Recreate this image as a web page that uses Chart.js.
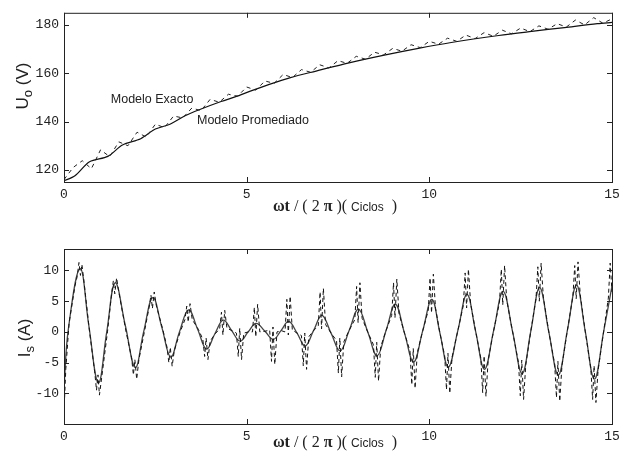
<!DOCTYPE html>
<html>
<head>
<meta charset="utf-8">
<script src="https://cdn.jsdelivr.net/npm/chart.js@4.4.1/dist/chart.umd.min.js"></script>
<style>
  body { margin: 0; background: #fff; }
  #pagina { position: relative; width: 626px; height: 452px; overflow: hidden; }
  canvas { position: absolute; left: 0; }
  .etq { position: absolute; color: #222; white-space: nowrap; }
  .ylab { font: 17px "Liberation Sans", Arial, sans-serif; transform: translate(-50%, -50%) rotate(-90deg); }
  .ylab sub { font-size: 13px; }
  .xlab { font: 16px "Liberation Serif", "Times New Roman", serif; transform: translateX(-50%); }
  .xlab b { font-weight: bold; }
  .xlab .c { font: 12px "Liberation Sans", Arial, sans-serif; }
</style>
</head>
<body>
<div id="pagina">
  <canvas id="graficaU" width="626" height="226" style="top:0"></canvas>
  <canvas id="graficaI" width="626" height="226" style="top:226px"></canvas>

  <div class="etq ylab" style="left:24px; top:86px">U<sub>o</sub> (V)</div>
  <div class="etq ylab" style="left:26px; top:338px">I<sub>s</sub> (A)</div>
  <div class="etq xlab" style="left:335px; top:197px"><b>ωt</b> / ( 2 <b>π</b> )( <span class="c">Ciclos</span> &nbsp;)</div>
  <div class="etq xlab" style="left:335px; top:433px"><b>ωt</b> / ( 2 <b>π</b> )( <span class="c">Ciclos</span> &nbsp;)</div>
</div>

<script>
// ---- datos: tension de salida U_o (V)
const tiempoProm = [0, 0.3, 0.7, 1.2, 1.6, 2.1, 2.5, 2.9, 3.3, 3.7, 4.3, 4.7, 5.1, 5.6, 6.2, 6.9, 7.8, 8.8, 9.7, 10.6, 11.9, 12.8, 13.7, 14.6, 15]
const uPromediado = [115.5, 117.6, 123.4, 125.6, 130.3, 132.9, 136.9, 138.9, 142.3, 144.9, 148.3, 150.3, 152.6, 155.3, 158.2, 160.9, 164.3, 167.6, 170.3, 172.7, 175.6, 177.3, 178.9, 180.5, 181]

const tiempoExacto = [0, 0.25, 0.5, 0.75, 1, 1.25, 1.5, 1.75, 2, 2.25, 2.5, 2.75, 3, 3.25, 3.5, 3.75,
  4, 4.25, 4.5, 4.75, 5, 5.25, 5.5, 5.75, 6, 6.25, 6.5, 6.75, 7, 7.25, 7.5, 7.75,
  8, 8.25, 8.5, 8.75, 9, 9.25, 9.5, 9.75, 10, 10.25, 10.5, 10.75, 11, 11.25, 11.5, 11.75,
  12, 12.25, 12.5, 12.75, 13, 13.25, 13.5, 13.75, 14, 14.25, 14.5, 14.75, 15]
const uExacto = [116, 121, 123.8, 120.5, 128.3, 125.5, 131.6, 130, 135.6, 133.6, 138.9, 137.5, 142.3, 141.5, 145.6, 144.5,
  149.2, 148, 151.3, 150.5, 154.3, 153, 156.8, 155.8, 159.5, 158.2, 161.5, 160.4, 163.5, 162.2, 165.2, 164.1,
  167, 165.8, 168.7, 167.6, 170.3, 169.1, 171.8, 170.6, 173.2, 172, 174.5, 173.2, 175.8, 174.3, 176.8, 175.3,
  177.8, 176.3, 178.7, 177.2, 179.6, 178.2, 180.5, 179.1, 182, 180, 183, 180.7, 182.5]

// ---- datos: corriente de entrada I_s (A)
const tiempoIProm = [0, 0.12, 0.44, 0.68, 0.94, 1.17, 1.4, 1.68, 1.95, 2.18, 2.43, 2.68, 2.92, 3.16, 3.41, 3.66,
  3.9, 4.13, 4.36, 4.59, 4.82, 5.04, 5.26, 5.5, 5.73, 5.94, 6.15, 6.38, 6.6, 6.83, 7.06, 7.31,
  7.56, 7.81, 8.06, 8.32, 8.57, 8.82, 9.07, 9.32, 9.57, 9.82, 10.07, 10.29, 10.52, 10.78, 11.03, 11.27,
  11.51, 11.76, 12.02, 12.28, 12.54, 12.78, 13.02, 13.27, 13.53, 13.78, 14.03, 14.27, 14.52, 14.77, 15]
const iPromediado = [-9, 0.5, 10.3, 1, -8.3, 0, 8, 1, -5.8, 0, 5.6, 0.7, -4.1, 0, 3.6, 0.4,
  -2.8, -0.3, 1.9, 0.2, -1.5, 0, 1.4, 0.1, -1.2, 0.2, 1.7, -0.2, -2.3, 0.2, 2.7, -0.2,
  -3.1, 0.3, 3.7, -0.1, -3.9, 0.3, 4.5, -0.2, -4.9, 0.2, 5.3, -0.2, -5.7, 0.2, 6.1, 0,
  -6.1, 0.2, 6.6, 0, -6.8, 0.2, 7.2, 0, -7, 0.3, 7.6, 0, -7.7, 0, 7.5]

const tiempoIExacto = [0, 0.05, 0.14, 0.3, 0.36, 0.41, 0.45, 0.49, 0.55, 0.7, 0.84, 0.89, 0.93, 0.97, 1.03,
  1.19, 1.3, 1.35, 1.39, 1.44, 1.5, 1.7, 1.85, 1.9, 1.94, 1.99, 2.05,
  2.2, 2.33, 2.38, 2.42, 2.47, 2.53, 2.7, 2.82, 2.87, 2.91, 2.96, 3.02,
  3.18, 3.31, 3.36, 3.4, 3.45, 3.51, 3.68, 3.8, 3.85, 3.89, 3.94, 4,
  4.14, 4.26, 4.31, 4.35, 4.4, 4.46, 4.6, 4.72, 4.77, 4.81, 4.86, 4.92,
  5.05, 5.16, 5.21, 5.25, 5.3, 5.36, 5.5, 5.63, 5.68, 5.72, 5.77, 5.83,
  5.95, 6.05, 6.1, 6.14, 6.19, 6.25, 6.38, 6.5, 6.55, 6.59, 6.64, 6.7,
  6.83, 6.96, 7.01, 7.05, 7.1, 7.16, 7.31, 7.46, 7.51, 7.55, 7.6, 7.66,
  7.81, 7.96, 8.01, 8.05, 8.1, 8.16, 8.32, 8.47, 8.52, 8.56, 8.61, 8.67,
  8.82, 8.97, 9.02, 9.06, 9.11, 9.17, 9.32, 9.47, 9.52, 9.56, 9.61, 9.67,
  9.82, 9.97, 10.02, 10.06, 10.11, 10.17, 10.29, 10.42, 10.47, 10.51, 10.56, 10.62,
  10.78, 10.93, 10.98, 11.02, 11.07, 11.13, 11.27, 11.41, 11.46, 11.5, 11.55, 11.61,
  11.76, 11.92, 11.97, 12.01, 12.06, 12.12, 12.28, 12.44, 12.49, 12.53, 12.58, 12.64,
  12.78, 12.92, 12.97, 13.01, 13.06, 13.12, 13.27, 13.43, 13.48, 13.52, 13.57, 13.63,
  13.78, 13.93, 13.98, 14.02, 14.07, 14.13, 14.27, 14.42, 14.47, 14.51, 14.56, 14.62,
  14.77, 14.9, 14.95, 15]
const iExacto = [-13, -6, 1.5, 7.5, 9, 11.3, 9.2, 11, 8, 0, -6.5, -9.5, -7, -10.3, -7.5,
  0, 6, 8.3, 6.2, 8.8, 6.5, 0, -4.2, -7, -4.5, -7.7, -4.5,
  0, 4, 6, 3.8, 6.5, 4.2, 0.5, -2.5, -5, -2.5, -5.6, -3,
  0, 2, 4.2, 1.6, 4.6, 2, 0.4, -1.2, -4, -1, -4.5, -1.5,
  -0.3, 0.5, 3.2, -0.5, 3.5, 0.6, 0.2, -0.2, -4, 0.6, -4.5, -0.2,
  0, 0, 4, -0.8, 4.5, 0, 0.1, 0.3, -4.8, 0.8, -5.3, 0,
  0.2, 0, 5.3, -0.5, 5.8, 0.3, -0.2, -0.6, -5.5, -0.2, -6.1, -0.8,
  0.2, 1, 6.5, 0.5, 7.1, 1.2, -0.2, -1.4, -6.7, -1, -7.3, -1.6,
  0.3, 2, 7.4, 1.5, 8, 2.2, -0.1, -2.1, -7.4, -1.7, -8, -2.4,
  0.3, 2.7, 8, 2.3, 8.6, 3, -0.2, -3.1, -8.6, -2.7, -9.2, -3.4,
  0.2, 3.5, 8.8, 3.1, 9.4, 3.8, -0.2, -3.9, -9.4, -3.5, -10, -4.2,
  0.2, 4.3, 9.6, 3.9, 10.2, 4.6, 0, -4.3, -9.9, -3.9, -10.5, -4.6,
  0.2, 4.8, 10.2, 4.4, 10.8, 5.1, 0, -5, -10.4, -4.6, -11, -5.3,
  0.2, 5.4, 10.6, 5, 11.2, 5.7, 0, -5.2, -10.7, -4.8, -11.3, -5.5,
  0.3, 5.8, 10.8, 5.4, 11.4, 6.1, 0, -5.9, -11, -5.5, -11.5, -6.2,
  0, 5.5, 11.2, 6.5]

// ---- ejes
const ticksX = [0, 5, 10, 15]
const ticksU = [120, 140, 160, 180]
const ticksI = [-10, -5, 0, 5, 10]

const puntos = (xs, ys) => xs.map((x, i) => ({ x: x, y: ys[i] }))

// marco con marcas hacia dentro en los cuatro lados + notas de texto
const marcoPlugin = {
  id: 'marco',
  afterDraw(chart, args, opts) {
    const ctx = chart.ctx
    const a = chart.chartArea
    const sx = chart.scales.x
    const sy = chart.scales.y
    ctx.save()
    ctx.strokeStyle = '#222'
    ctx.lineWidth = 1
    ctx.strokeRect(a.left + 0.5, a.top + 0.5, a.right - a.left, a.bottom - a.top)
    ctx.beginPath()
    sx.ticks.forEach(t => {
      const px = Math.round(sx.getPixelForValue(t.value)) + 0.5
      ctx.moveTo(px, a.bottom); ctx.lineTo(px, a.bottom - 5)
      ctx.moveTo(px, a.top); ctx.lineTo(px, a.top + 5)
    })
    sy.ticks.forEach(t => {
      const py = Math.round(sy.getPixelForValue(t.value)) + 0.5
      ctx.moveTo(a.left, py); ctx.lineTo(a.left + 5, py)
      ctx.moveTo(a.right, py); ctx.lineTo(a.right - 5, py)
    })
    ctx.stroke()
    ctx.fillStyle = '#222'
    ctx.font = '12.5px "Liberation Sans", Arial, sans-serif'
    ctx.textBaseline = 'middle'
    ctx.textAlign = 'left'
    ;(opts.notas || []).forEach(n => {
      ctx.fillText(n.texto, sx.getPixelForValue(n.x), sy.getPixelForValue(n.y))
    })
    ctx.restore()
  }
}

const opcionesEjes = (ymin, ymax, ticksY, alturaX) => ({
  x: {
    type: 'linear', min: 0, max: 15,
    afterBuildTicks: s => { s.ticks = ticksX.map(v => ({ value: v })) },
    afterFit: s => { s.height = alturaX },
    grid: { display: false, drawTicks: false },
    border: { display: false },
    ticks: { padding: 5, color: '#222', font: { family: 'Liberation Mono', size: 13 } }
  },
  y: {
    min: ymin, max: ymax,
    afterBuildTicks: s => { s.ticks = ticksY.map(v => ({ value: v })) },
    afterFit: s => { s.width = 64 },
    grid: { display: false, drawTicks: false },
    border: { display: false },
    ticks: { padding: 5, color: '#222', font: { family: 'Liberation Mono', size: 13 } }
  }
})

const generarGrafica = (id, series, ejes, padding, notas) => {
  new Chart(document.getElementById(id).getContext('2d'), {
    type: 'line',
    data: { datasets: series },
    options: {
      responsive: false,
      animation: false,
      layout: { padding: padding },
      elements: { point: { radius: 0 } },
      plugins: { legend: { display: false }, tooltip: { enabled: false }, marco: { notas: notas } },
      scales: ejes
    },
    plugins: [marcoPlugin]
  })
}

generarGrafica('graficaU', [
  { label: 'Modelo Exacto', data: puntos(tiempoExacto, uExacto), borderColor: '#222', borderWidth: 1, borderDash: [4, 4], tension: 0 },
  { label: 'Modelo Promediado', data: puntos(tiempoProm, uPromediado), borderColor: '#111', borderWidth: 1.2, tension: 0.3 }
], opcionesEjes(115, 185, ticksU, 44), { top: 7, right: 14, left: 0, bottom: 0 }, [
  { texto: 'Modelo Exacto', x: 1.28, y: 149.2 },
  { texto: 'Modelo Promediado', x: 3.64, y: 140.4 }
])

generarGrafica('graficaI', [
  { label: 'Modelo Exacto', data: puntos(tiempoIExacto, iExacto), borderColor: '#111', borderWidth: 1, borderDash: [4, 3], tension: 0 },
  { label: 'Modelo Promediado', data: puntos(tiempoIProm, iPromediado), borderColor: '#444', borderWidth: 1.3, tension: 0.4 }
], opcionesEjes(-15, 13.5, ticksI, 28), { top: 23, right: 14, left: 0, bottom: 0 }, [])
</script>
</body>
</html>
